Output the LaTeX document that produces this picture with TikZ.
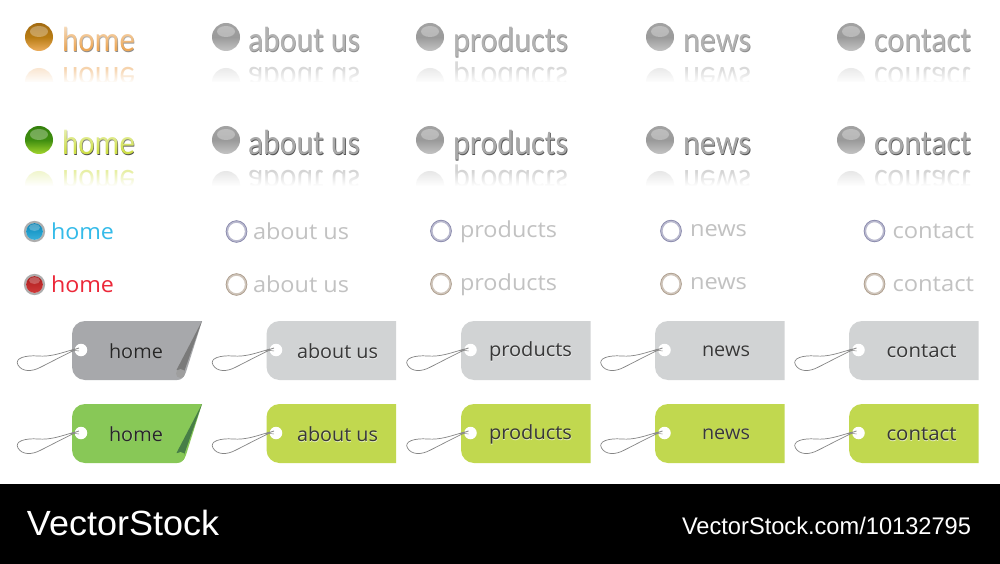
\documentclass[tikz,border=0pt]{standalone}
\usepackage{fontspec}
\usepackage{graphicx}
\usetikzlibrary{fadings,calc}
\setmainfont{Open Sans}
\newfontfamily\myr{Carlito}
\newfontfamily\logof{Liberation Sans}
\definecolor{tagdark}{HTML}{A7A8AB}
\definecolor{taglight}{HTML}{D1D3D4}
\definecolor{taggreen}{HTML}{88C857}
\definecolor{taglime}{HTML}{C1D84F}
\definecolor{bluetxt}{HTML}{35BBE9}
\definecolor{redtxt}{HTML}{EC2839}
\definecolor{orangetxt}{HTML}{EDA858}
\definecolor{greentxt}{HTML}{CFE04A}
\definecolor{sgA}{HTML}{F4F4F4}\definecolor{sgB}{HTML}{C9C9C9}\definecolor{sgC}{HTML}{9A9A9A}\definecolor{sgD}{HTML}{A6A6A6}\definecolor{sgE}{HTML}{A0A0A0}
\definecolor{soA}{HTML}{FBEBD8}\definecolor{soB}{HTML}{EFB060}\definecolor{soC}{HTML}{B87C14}\definecolor{soD}{HTML}{9A6410}\definecolor{soE}{HTML}{B0762A}
\definecolor{sgrA}{HTML}{EAF3C8}\definecolor{sgrB}{HTML}{A6D82E}\definecolor{sgrC}{HTML}{3F8E10}\definecolor{sgrD}{HTML}{2F7A0A}\definecolor{sgrE}{HTML}{7AAE30}
\definecolor{sbA}{HTML}{58C4E8}\definecolor{sbB}{HTML}{1E9CCB}\definecolor{sbC}{HTML}{0F6F9C}
\definecolor{srA}{HTML}{E04A4A}\definecolor{srB}{HTML}{BE2A2A}\definecolor{srC}{HTML}{8C1C1C}
\pgfdeclareverticalshading{sphgray}{100bp}{color(0bp)=(white); color(8bp)=(sgA); color(22bp)=(sgB); color(50bp)=(sgC); color(85bp)=(sgD); color(100bp)=(sgE)}
\pgfdeclareverticalshading{sphorange}{100bp}{color(0bp)=(white); color(8bp)=(soA); color(24bp)=(soB); color(50bp)=(soC); color(85bp)=(soD); color(100bp)=(soE)}
\pgfdeclareverticalshading{sphgreen}{100bp}{color(0bp)=(white); color(8bp)=(sgrA); color(24bp)=(sgrB); color(50bp)=(sgrC); color(85bp)=(sgrD); color(100bp)=(sgrE)}
\pgfdeclareverticalshading{sphblue}{100bp}{color(0bp)=(sbA); color(50bp)=(sbB); color(100bp)=(sbC)}
\pgfdeclareverticalshading{sphred}{100bp}{color(0bp)=(srA); color(50bp)=(srB); color(100bp)=(srC)}
\tikzset{
 x=1pt,y=-1pt,
 lbl/.style={anchor=base west,inner sep=0pt,outer sep=0pt},
 tagstring/.style={draw=black!48,line width=0.7pt},
 hole/.style={circle,fill=white,inner sep=0pt,minimum size=12.5pt},
 tagtxt/.style={lbl,text=black!78},
}
\newcommand\fitw[3]{\resizebox{#1pt}{\height}{\fontsize{#2}{#2}\selectfont #3}}
\newcommand\flipw[3]{\scalebox{1}[-1]{\fitw{#1}{#2}{#3}}}
% big glass button: name, sphere shade, sphere cx, row y (sphere centre), text x, width, text, shadow col, fill col
\newcommand\bigbtn[9]{%
 \colorlet{btnbase}{#9}%
 \shade[shading=#2] (#3,#4) circle[radius=14];
 \fill[white,opacity=.3] (#3,#4-5.5) ellipse[x radius=9,y radius=5.5];
 \node[lbl,text=#8] (#1s) at (#5+0.6,#4+15.4) {\myr\fitw{#6}{35}{#7}};
 \node[lbl,text=btnbase] (#1) at (#5,#4+14.7) {\myr\fitw{#6}{35}{#7}};
 \fill[btnbase!50!white,opacity=.55] (#3,#4+45) ellipse[x radius=14,y radius=14];
 \node[lbl,text=btnbase!50!white] (#1r) at (#5,#4+31) {\myr\flipw{#6}{35}{#7}};
 \fill[white,path fading=north] (#3-18,#4+31) rectangle (#5+#6+4,#4+46);
 \fill[white] (#3-18,#4+45.5) rectangle (#5+#6+4,#4+62);
}
\newcommand\ringbtn[8]{% name,cx,y,tx,baseline,w,text,ringcolor base
 \colorlet{rbase}{#8}%
 \draw[rbase!55!white,line width=2.4pt] (#2,#3) ellipse[x radius=9.6,y radius=10];
 \draw[rbase,line width=.5pt] (#2,#3) ellipse[x radius=10.4,y radius=10.8];
 \node[lbl,text=black!24] (#1) at (#4,#5+.7) {\fitw{#6}{22}{#7}};
}
\newcommand\tagstr[1]{% hole node name
 \draw[tagstring] ($(#1)+(-6,-1)$) .. controls ($(#1)+(-20,3)$) and ($(#1)+(-30,7)$) .. ($(#1)+(-43,6)$) .. controls ($(#1)+(-55,5)$) and ($(#1)+(-67,8)$) .. ($(#1)+(-63,15)$) .. controls ($(#1)+(-59,22)$) and ($(#1)+(-49,22)$) .. ($(#1)+(-40,17)$) .. controls ($(#1)+(-30,12)$) and ($(#1)+(-15,4)$) .. ($(#1)+(-6,0)$);
 \draw[draw=black!45,line width=.9pt] ($(#1)+(-11,1)$) -- ($(#1)+(-2,-2)$);
 \draw[draw=black!45,line width=.5pt] ($(#1)+(-9,0)$) -- ($(#1)+(-2,1)$);
}
\newcommand\tagbtn[8]{% name,left,top,fill,text x,width,text,baseline offset
 \fill[#4] (#2+13,#3) -- (#2+129.5,#3) -- (#2+129.5,#3+59) -- (#2+13,#3+59) arc[start angle=90,end angle=180,radius=13] -- (#2,#3+13) arc[start angle=180,end angle=270,radius=13] -- cycle;
 \node[hole] (#1h) at (#2+9.5,#3+29) {};
 \tagstr{#1h}
 \node[lbl,text=white,opacity=.6] (#1w) at (#5+.4,#3+#8+1.4) {\fitw{#6}{19.5}{#7}};
 \node[tagtxt] (#1t) at (#5,#3+#8+.8) {\fitw{#6}{19.5}{#7}};
}
\newcommand\foldtag[7]{% name,top,fill,fold,curl,x,text
 \fill[#3] (85,#2) -- (202,#2) -- (186,#2+51) .. controls (184,#2+56) and (182,#2+59) .. (177,#2+59) -- (85,#2+59) arc[start angle=90,end angle=180,radius=13] -- (72,#2+13) arc[start angle=180,end angle=270,radius=13] -- cycle;
 \fill[#4] (202,#2) -- (176.5,#2+49) -- (184,#2+51) -- cycle;
 \fill[#5] (180.5,#2+52.5) circle[radius=4.5];
 \node[hole] (#1h) at (81,#2+29) {};
 \tagstr{#1h}
 \node[lbl,text=white,opacity=.6] (#1w) at (109.4,#2+37.8) {\fitw{54}{19.5}{#7}};
 \node[tagtxt,text=black!85] (#1t) at (109,#2+37.3) {\fitw{54}{19.5}{#7}};
}
\begin{document}
\begin{tikzpicture}
\useasboundingbox (0,0) rectangle (1000,564);
\fill[white] (0,0) rectangle (1000,564);
% row 1
\bigbtn{ah}{sphorange}{39}{37}{62}{73}{home}{black!45}{orangetxt}
\fill[white,opacity=.65,path fading=south] (60,24) rectangle (138,48);
\bigbtn{aa}{sphgray}{226}{37}{248}{112}{about us}{black!45}{black!30}
\bigbtn{ap}{sphgray}{430}{37}{453}{115}{products}{black!45}{black!30}
\bigbtn{an}{sphgray}{660}{37}{683}{68}{news}{black!45}{black!30}
\bigbtn{ac}{sphgray}{851}{37}{874}{97}{contact}{black!45}{black!30}
% row 2
\bigbtn{bh}{sphgreen}{39}{140}{62}{73}{home}{black!70}{greentxt}
\fill[white,opacity=.6,path fading=south] (60,127) rectangle (138,151);
\bigbtn{ba}{sphgray}{226}{140}{248}{112}{about us}{black!68}{black!34}
\bigbtn{bp}{sphgray}{430}{140}{453}{115}{products}{black!68}{black!34}
\bigbtn{bn}{sphgray}{660}{140}{683}{68}{news}{black!68}{black!34}
\bigbtn{bc}{sphgray}{851}{140}{874}{97}{contact}{black!68}{black!34}
% row 3
\draw[black!32,line width=2.2pt] (34.5,231.5) circle[radius=9.5];
\shade[shading=sphblue] (34.5,231.5) circle[radius=8.4];
\fill[white,opacity=.25] (34.5,227.5) ellipse[x radius=5.5,y radius=3.5];
\node[lbl,text=bluetxt] (ch) at (51,239.7) {\fitw{63}{22}{home}};
\ringbtn{ca}{236.5}{231.5}{253}{239}{96}{about us}{blue!30!black!50}
\ringbtn{cp}{441}{231}{460}{236.7}{97}{products}{blue!30!black!50}
\ringbtn{cn}{671}{231}{690}{236}{57}{news}{blue!30!black!50}
\ringbtn{cc}{874.5}{231}{892.5}{237.7}{81.5}{contact}{blue!30!black!50}
% row 4
\draw[black!32,line width=2.2pt] (34.5,284.5) circle[radius=9.5];
\shade[shading=sphred] (34.5,284.5) circle[radius=8.4];
\fill[white,opacity=.25] (34.5,280.5) ellipse[x radius=5.5,y radius=3.5];
\node[lbl,text=redtxt] (dh) at (51,292.7) {\fitw{63}{22}{home}};
\ringbtn{da}{236.5}{284.5}{253}{292}{96}{about us}{brown!50!black!55}
\ringbtn{dp}{441}{284}{460}{289.7}{97}{products}{brown!50!black!55}
\ringbtn{dn}{671}{284}{690}{289}{57}{news}{brown!50!black!55}
\ringbtn{dc}{874.5}{284}{892.5}{290.7}{81.5}{contact}{brown!50!black!55}
% tags gray
\foldtag{eh}{321}{tagdark}{black!52}{black!38}{109}{home}
\tagbtn{ea}{266.5}{321}{taglight}{297}{81}{about us}{36.7}
\tagbtn{ep}{461}{321}{taglight}{489}{83}{products}{35}
\tagbtn{en}{655}{321}{taglight}{702}{48}{news}{34.5}
\tagbtn{ec}{849}{321}{taglight}{886.5}{70}{contact}{35.7}
% tags green
\foldtag{fh}{404}{taggreen}{green!30!black!72}{taggreen}{109}{home}
\tagbtn{fa}{266.5}{404}{taglime}{297}{81}{about us}{36.7}
\tagbtn{fp}{461}{404}{taglime}{489}{83}{products}{35}
\tagbtn{fn}{655}{404}{taglime}{702}{48}{news}{34.5}
\tagbtn{fc}{849}{404}{taglime}{886.5}{70}{contact}{35.7}
% bar
\fill[black] (0,484) rectangle (1000,564);
\node[lbl,text=white] (logo) at (27,535) {\logof\fitw{192}{35}{VectorStock}};
\node[lbl,text=white] (url) at (682,534) {\logof\fitw{289}{24}{VectorStock.com/10132795}};
\end{tikzpicture}
\end{document}
